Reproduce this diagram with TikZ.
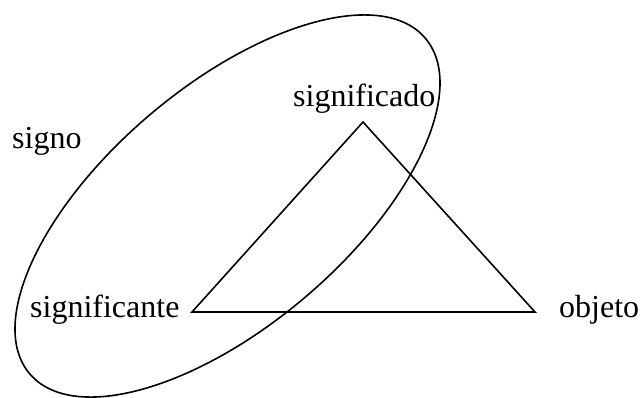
\documentclass[tikz,border=0pt]{standalone}
\usepackage{fontspec}
\setmainfont{Liberation Serif}
\begin{document}
\begin{tikzpicture}[x=1pt,y=-1pt,
  lbl/.style={inner sep=0pt,anchor=base west,font=\fontsize{32}{38}\selectfont},
  stroke/.style={line width=1.6pt,black}]
\useasboundingbox (0,0) rectangle (640,397);
% ellipse (signo)
\draw[stroke,rotate around={40.3:(227.5,206)}] (227.5,206) ellipse [x radius=259.4, y radius=119.8];
% triangle
\coordinate (t) at (363,122);
\coordinate (bl) at (192,312);
\coordinate (br) at (535,312);
\draw[stroke] (t) -- (bl) -- (br) -- cycle;
% labels
\node[lbl] (signo) at (12,148) {signo};
\node[lbl] (significado) at (293,106) {significado};
\node[lbl] (significante) at (30,317) {significante};
\node[lbl] (objeto) at (559,317) {objeto};
\end{tikzpicture}
\end{document}
